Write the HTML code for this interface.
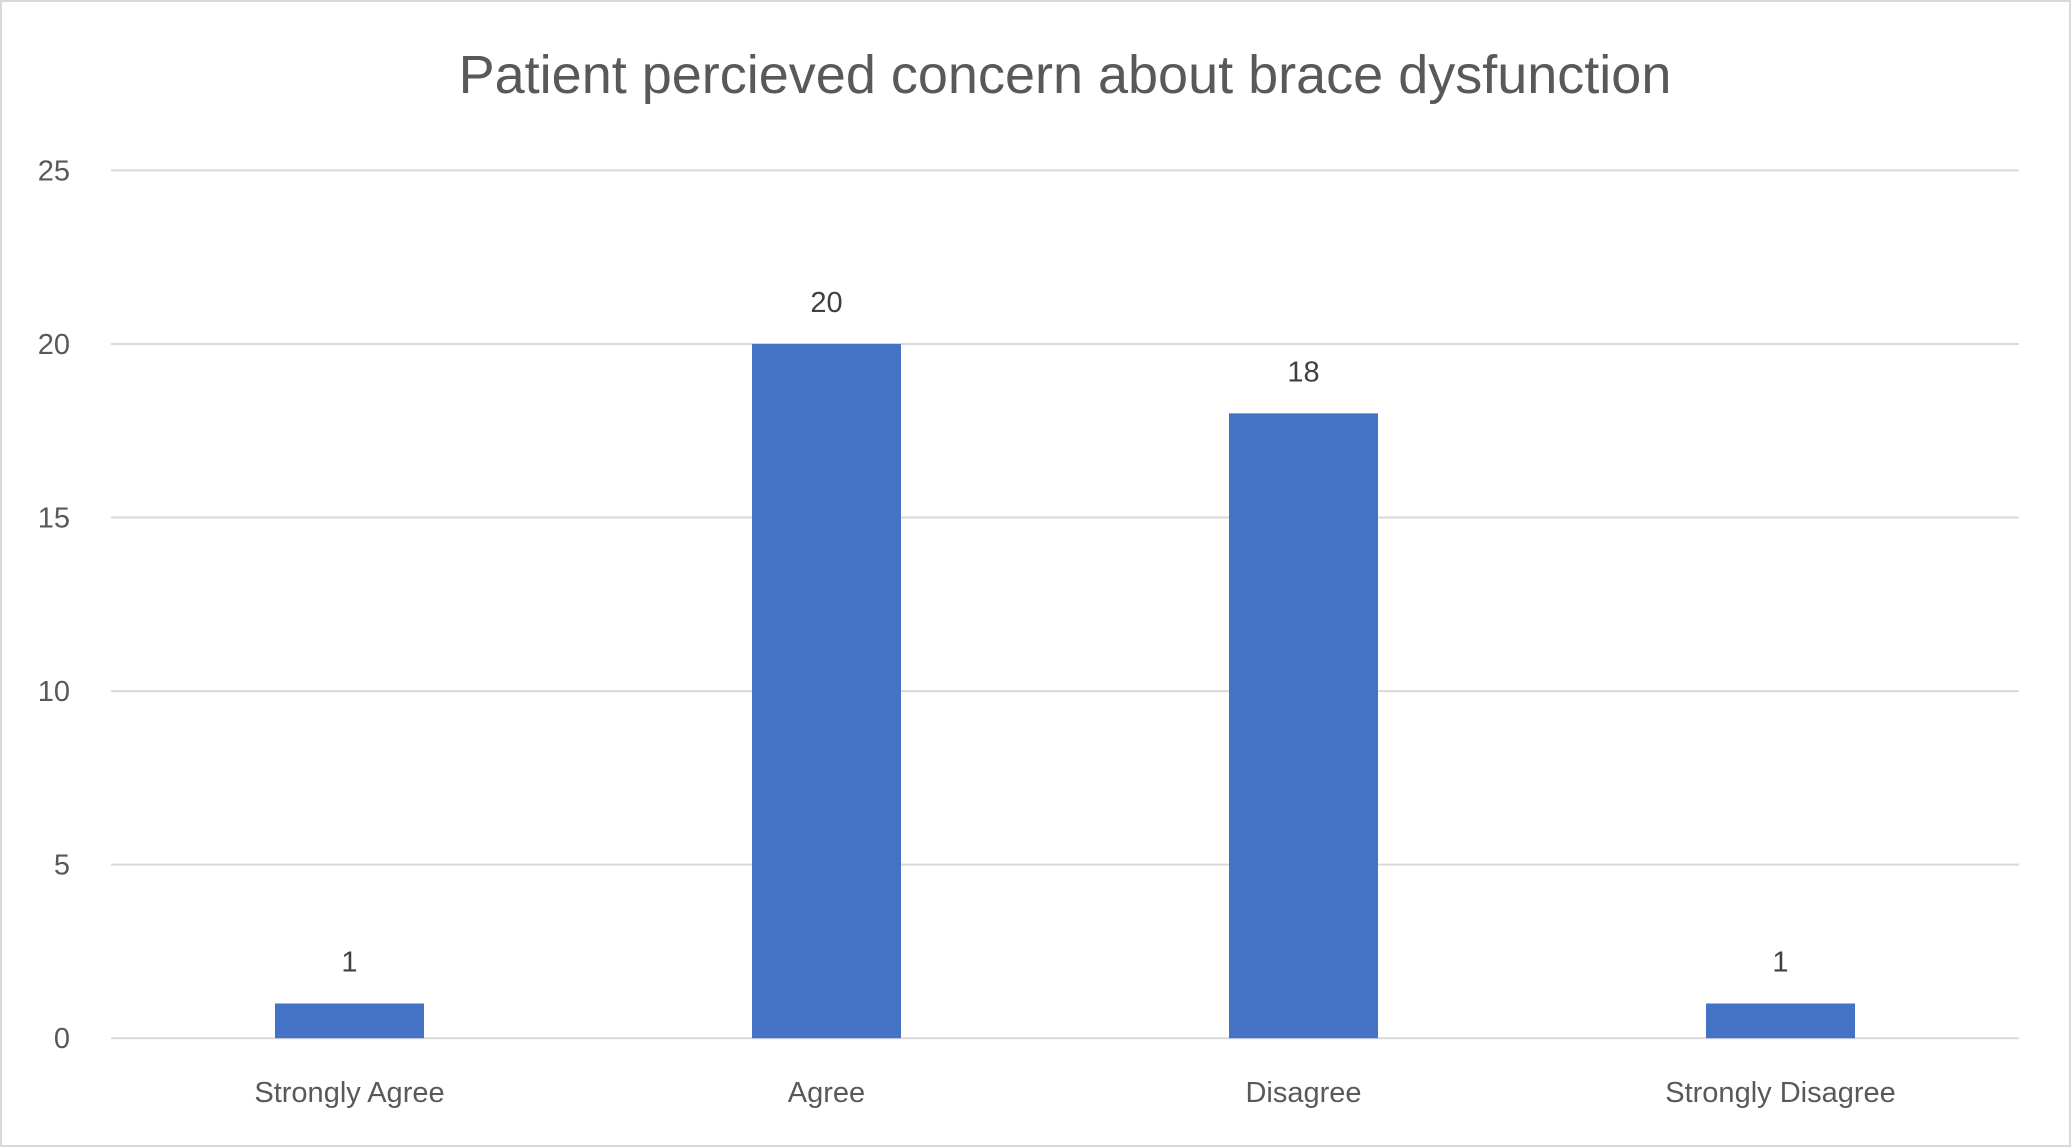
<!DOCTYPE html>
<html><head><meta charset="utf-8"><style>
html,body{margin:0;padding:0;background:#fff;}
svg{display:block;font-family:"Liberation Sans",sans-serif;}
</style></head><body>
<svg id="chart" width="2071" height="1147" viewBox="0 0 2071 1147" xmlns="http://www.w3.org/2000/svg">
<rect x="1" y="1" width="2069" height="1145" fill="#fff" stroke="#d9d9d9" stroke-width="2"/>
<text x="1065" y="93" text-anchor="middle" font-size="54" fill="#595959">Patient percieved concern about brace dysfunction</text>
<g id="grid"></g>
<g id="yticks"></g>
<g id="bars"></g>
<g id="labels"></g>
<g id="xticks"></g>
</svg>
<script>
const categories = ["Strongly Agree","Agree","Disagree","Strongly Disagree"];
const values = [1,20,18,1];
const yTicks = [0,5,10,15,20,25];
const ns="http://www.w3.org/2000/svg";
const L=111,R=2019,T=170.4,B=1038.2,yMax=25;
const y=v=>B-(v/yMax)*(B-T);
const bw=(R-L)/categories.length, barW=149;
const xc=i=>L+bw*(i+0.5);
function mk(tag,attrs,parent,txt){const e=document.createElementNS(ns,tag);for(const k in attrs)e.setAttribute(k,attrs[k]);if(txt!==undefined)e.textContent=txt;document.getElementById(parent).appendChild(e);return e;}
yTicks.forEach(t=>{
 const g=mk('line',{x1:L,x2:R,y1:y(t),y2:y(t),stroke:'#d9d9d9','stroke-width':2},'grid');
 
 
 const l=mk('text',{x:70,y:y(t)+10,'text-anchor':'end','font-size':29,fill:'#595959'},'yticks',String(t));
 
 
});
categories.forEach((c,i)=>{
 const b=mk('rect',{x:xc(i)-barW/2,y:y(values[i]),width:barW,height:B-y(values[i]),fill:'#4472c4'},'bars');
 
 
 const v=mk('text',{x:xc(i),y:y(values[i])-32,'text-anchor':'middle','font-size':29,fill:'#404040'},'labels',String(values[i]));
 
 
 const x=mk('text',{x:xc(i),y:1102,'text-anchor':'middle','font-size':29,fill:'#595959'},'xticks',c);
 
 
});
</script>
</body></html>
